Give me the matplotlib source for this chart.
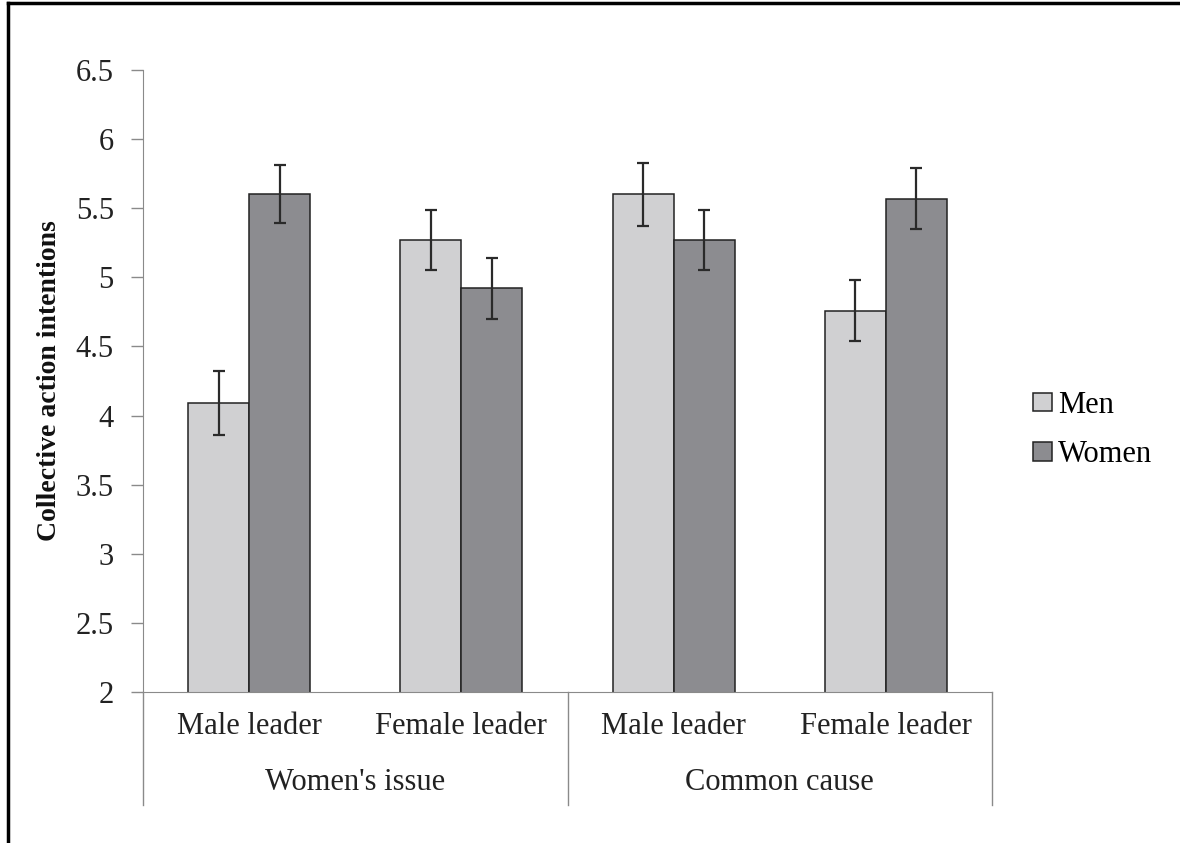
import matplotlib.pyplot as plt
import numpy as np
from matplotlib.lines import Line2D

plt.rcParams['font.family'] = ['Liberation Serif', 'DejaVu Serif']

categories = ['Male leader', 'Female leader', 'Male leader', 'Female leader']
groups = ["Women's issue", 'Common cause']
men = [4.09, 5.27, 5.60, 4.76]
men_err = [0.23, 0.22, 0.23, 0.22]
women = [5.60, 4.92, 5.27, 5.57]
women_err = [0.21, 0.22, 0.22, 0.22]
yticks = [2, 2.5, 3, 3.5, 4, 4.5, 5, 5.5, 6, 6.5]
ytick_labels = ['2', '2.5', '3', '3.5', '4', '4.5', '5', '5.5', '6', '6.5']

W, H = 1180, 843
fig = plt.figure(figsize=(W / 100, H / 100), dpi=100)
ax = fig.add_axes([143 / W, (H - 692) / H, 849 / W, 622 / H])

x = np.arange(len(categories))
bw = 0.2875
grey = '#8a8a8a'
err_kw = dict(ecolor='#2a2a2a', elinewidth=1.6, capsize=4.5, capthick=1.6)
ax.bar(x - bw / 2, men, bw, color='#d0d0d2', edgecolor='#222222',
       linewidth=1.1, yerr=men_err, error_kw=err_kw, label='Men', zorder=2)
ax.bar(x + bw / 2, women, bw, color='#8c8c90', edgecolor='#222222',
       linewidth=1.1, yerr=women_err, error_kw=err_kw, label='Women', zorder=2)

ax.set_xlim(-0.5, len(categories) - 0.5)
ax.set_ylim(2, 6.5)
ax.set_yticks(yticks)
ax.set_yticklabels(ytick_labels, fontsize=22, color='#222222')
ax.tick_params(axis='y', direction='out', length=9, width=1, color=grey, pad=12)
ax.set_xticks([])
for s in ['top', 'right']:
    ax.spines[s].set_visible(False)
ax.spines['left'].set_color(grey)
ax.spines['bottom'].set_color(grey)

ax.set_ylabel('Collective action intentions', fontsize=20, fontweight='bold',
              labelpad=10, color='#111111')

# category labels and group labels below the axis
tr = ax.get_xaxis_transform()
for i, c in enumerate(categories):
    ax.text(x[i], -0.032, c, transform=tr, ha='center', va='top', fontsize=22,
            color='#222222')
for g, name in enumerate(groups):
    ax.text(x[2 * g] + 0.5, -0.122, name, transform=tr, ha='center', va='top',
            fontsize=22, color='#222222')
for sep in [-0.5, 1.5, 3.5]:
    ax.add_line(Line2D([sep, sep], [0, -0.182], transform=tr, color=grey,
                       linewidth=1, clip_on=False))

ax.legend(loc='center left', bbox_to_anchor=(1021 / W, (H - 430) / H),
          bbox_transform=fig.transFigure, frameon=False, fontsize=22,
          handlelength=0.6, handleheight=0.55, handletextpad=0.2,
          labelspacing=0.68, borderaxespad=0)

# black frame on left and top of the picture
fig.add_artist(Line2D([8 / W, 8 / W], [0, 1 - 3 / H], transform=fig.transFigure,
                      color='black', linewidth=2.5))
fig.add_artist(Line2D([8 / W, 1], [1 - 3 / H, 1 - 3 / H], transform=fig.transFigure,
                      color='black', linewidth=2.5))

fig.savefig('out.png', dpi=100)
